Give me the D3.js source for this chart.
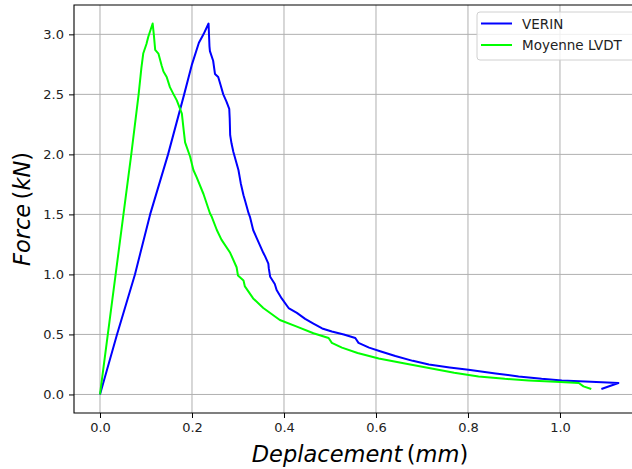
<!DOCTYPE html>
<html>
<head>
<meta charset="utf-8">
<style>
    body {
        margin: 0;
        background: #ffffff;
        font-family: "DejaVu Sans", sans-serif;
    }
    .grid line {
        stroke: #b0b0b0;
        stroke-width: 1;
    }
    .axis text {
        font-size: 13px;
        fill: #222;
    }
</style>
</head>
<body>
<svg id="chart" width="632" height="469"></svg>
<script src="https://cdn.jsdelivr.net/npm/d3@7"></script>
<script>

    // VERIN (blue)
    let verinX = [0, 0.037, 0.076, 0.109, 0.148, 0.183, 0.200, 0.215, 0.225, 0.236, 0.238, 0.239, 0.246, 0.250, 0.257,
        0.262, 0.268, 0.275, 0.281, 0.282, 0.283, 0.286, 0.290, 0.301, 0.306, 0.312, 0.315, 0.323, 0.326, 0.333,
        0.341, 0.355, 0.359, 0.366, 0.367, 0.370, 0.380, 0.384, 0.395, 0.410, 0.428, 0.446, 0.464, 0.483, 0.504,
        0.530, 0.555, 0.562, 0.585, 0.609, 0.642, 0.680, 0.715, 0.760, 0.801, 0.860, 0.910, 0.960, 1.004, 1.055,
        1.127, 1.090]
    let verinY = [0, 0.50, 1.00, 1.50, 2.00, 2.50, 2.75, 2.93, 3.00, 3.09, 2.90, 2.86, 2.78, 2.67, 2.645,
        2.58, 2.50, 2.44, 2.38, 2.30, 2.16, 2.09, 2.02, 1.87, 1.76, 1.66, 1.62, 1.51, 1.48, 1.37,
        1.30, 1.18, 1.15, 1.09, 1.05, 0.98, 0.92, 0.87, 0.80, 0.72, 0.68, 0.63, 0.59, 0.55, 0.525,
        0.50, 0.47, 0.43, 0.39, 0.36, 0.32, 0.28, 0.25, 0.225, 0.205, 0.175, 0.15, 0.13, 0.117, 0.108,
        0.095, 0.045]

    // Moyenne LVDT (green)
    let lvdtX = [0, 0.034, 0.051, 0.068, 0.084, 0.090, 0.094, 0.101, 0.105, 0.1145, 0.117, 0.120, 0.127,
        0.134, 0.138, 0.145, 0.152, 0.160, 0.167, 0.178, 0.182, 0.185, 0.196, 0.203, 0.210, 0.225, 0.239, 0.243,
        0.254, 0.264, 0.283, 0.297, 0.300, 0.312, 0.315, 0.333, 0.355, 0.391, 0.428, 0.464, 0.497, 0.504, 0.526,
        0.560, 0.606, 0.660, 0.715, 0.770, 0.823, 0.880, 0.932, 0.990, 1.041, 1.051, 1.068]
    let lvdtY = [0, 1.00, 1.50, 2.00, 2.50, 2.72, 2.84, 2.92, 2.98, 3.09, 3.00, 2.87, 2.84,
        2.74, 2.69, 2.645, 2.56, 2.50, 2.45, 2.34, 2.20, 2.10, 1.98, 1.87, 1.81, 1.67, 1.51, 1.48,
        1.37, 1.29, 1.18, 1.06, 0.99, 0.95, 0.90, 0.80, 0.72, 0.62, 0.565, 0.51, 0.47, 0.43, 0.39,
        0.345, 0.30, 0.26, 0.22, 0.18, 0.15, 0.13, 0.117, 0.105, 0.095, 0.067, 0.045]

    let xTicks = [0.0, 0.2, 0.4, 0.6, 0.8, 1.0]
    let yTicks = [0.0, 0.5, 1.0, 1.5, 2.0, 2.5, 3.0]
    let seriesNames = ["VERIN", "Moyenne LVDT"]
    let seriesColors = ["#0000ff", "#00ff00"]

    // axes box (right side runs past the picture edge, like the original crop)
    let plotLeft = 74, plotTop = 5, plotRight = 646, plotBottom = 413

    let svg = d3.select("#chart")

    let xScale = d3.scaleLinear()
        .domain([-0.0565, 1.187])
        .range([plotLeft, plotRight])
    let yScale = d3.scaleLinear()
        .domain([-0.1545, 3.2445])
        .range([plotBottom, plotTop])

    // grid
    let grid = svg.append("g").attr("class", "grid")
    grid.selectAll(".gx")
        .data(xTicks)
        .enter().append("line")
        .attr("x1", d => xScale(d)).attr("x2", d => xScale(d))
        .attr("y1", plotTop).attr("y2", plotBottom)
    grid.selectAll(".gy")
        .data(yTicks)
        .enter().append("line")
        .attr("x1", plotLeft).attr("x2", plotRight)
        .attr("y1", d => yScale(d)).attr("y2", d => yScale(d))

    // lines
    let line = d3.line()
        .x(d => xScale(d[0]))
        .y(d => yScale(d[1]))

    let series = [
        d3.zip(verinX, verinY),
        d3.zip(lvdtX, lvdtY)
    ]
    svg.selectAll(".curve")
        .data(series)
        .enter().append("path")
        .attr("class", "curve")
        .attr("d", line)
        .attr("fill", "none")
        .attr("stroke", (d, i) => seriesColors[i])
        .attr("stroke-width", 2)
        .attr("stroke-linejoin", "round")

    // axes
    let xAxis = d3.axisBottom(xScale)
        .tickValues(xTicks)
        .tickFormat(d3.format(".1f"))
        .tickSizeOuter(0)
        .tickSize(5)
        .tickPadding(5)
    let yAxis = d3.axisLeft(yScale)
        .tickValues(yTicks)
        .tickFormat(d3.format(".1f"))
        .tickSizeOuter(0)
        .tickSize(5)
        .tickPadding(5)

    svg.append("g")
        .attr("class", "axis")
        .attr("transform", `translate(0,${plotBottom})`)
        .call(xAxis)
        .call(g => g.select(".domain").remove())
    svg.append("g")
        .attr("class", "axis")
        .attr("transform", `translate(${plotLeft},0)`)
        .call(yAxis)
        .call(g => g.select(".domain").remove())
    svg.selectAll(".axis text").attr("font-family", "DejaVu Sans")
    svg.selectAll(".axis line").attr("stroke", "#000").attr("stroke-width", 1)

    // spines (left, top, bottom)
    svg.append("path")
        .attr("d", `M${plotRight},${plotTop}H${plotLeft}V${plotBottom}H${plotRight}`)
        .attr("fill", "none")
        .attr("stroke", "#000")
        .attr("stroke-width", 1.1)

    // axis labels
    let xl = svg.append("text")
        .attr("x", (plotLeft + plotRight) / 2)
        .attr("y", 462)
        .attr("text-anchor", "middle")
        .attr("font-size", 22.5)
        .attr("fill", "#000")
    xl.append("tspan").attr("font-style", "italic").text("Deplacement")
    xl.append("tspan").text("\u2009(")
    xl.append("tspan").attr("font-style", "italic").text("mm")
    xl.append("tspan").text(")")

    let yl = svg.append("text")
        .attr("transform", `translate(30,${(plotTop + plotBottom) / 2}) rotate(-90)`)
        .attr("text-anchor", "middle")
        .attr("font-size", 22.5)
        .attr("fill", "#000")
    yl.append("tspan").attr("font-style", "italic").text("Force")
    yl.append("tspan").text("\u2009(")
    yl.append("tspan").attr("font-style", "italic").text("kN")
    yl.append("tspan").text(")")

    // legend
    let legend = svg.append("g").attr("transform", "translate(477,12)")
    legend.append("rect")
        .attr("width", 162)
        .attr("height", 48)
        .attr("rx", 3)
        .attr("fill", "#fff")
        .attr("fill-opacity", 0.8)
        .attr("stroke", "#d0d0d0")

    let items = legend.selectAll(".item")
        .data(seriesNames)
        .enter().append("g")
        .attr("transform", (d, i) => `translate(0,${11.5 + i * 21.5})`)
    items.append("line")
        .attr("x1", 4).attr("x2", 35)
        .attr("stroke", (d, i) => seriesColors[i])
        .attr("stroke-width", 2)
    items.append("text")
        .attr("x", 45)
        .attr("y", 5)
        .attr("font-size", 13.5)
        .attr("fill", "#222")
        .text(d => d)

</script>
</body>
</html>
